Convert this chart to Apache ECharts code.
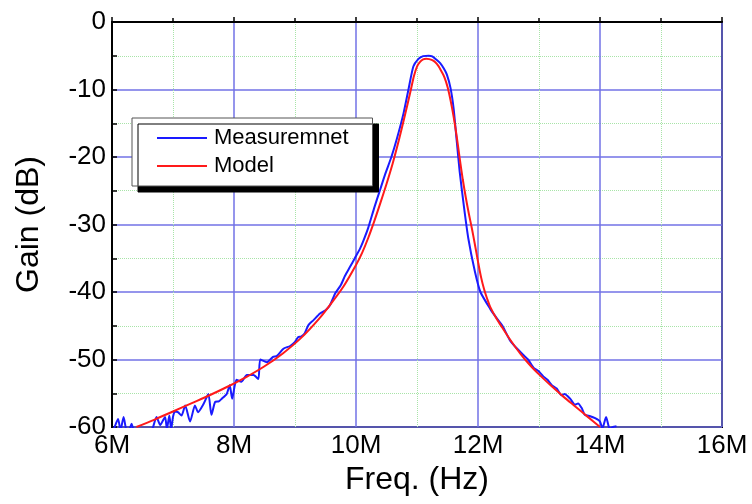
<!DOCTYPE html>
<html>
<head>
<meta charset="utf-8">
<script src="https://cdn.jsdelivr.net/npm/echarts@6/dist/echarts.min.js"></script>
<style>
html,body{margin:0;padding:0;background:#fff;}
#chart{width:752px;height:504px;}
</style>
</head>
<body>
<div id="chart"></div>
<script>
// Axis ticks
var xTicks = [6, 8, 10, 12, 14, 16];   // MHz
var yTicks = [-60, -50, -40, -30, -20, -10, 0]; // dB
var seriesNames = ['Measuremnet', 'Model'];

// Measurement (MHz, dB)
var measFreq = [6.02, 6.06, 6.10, 6.14, 6.19, 6.24, 6.28, 6.32, 6.36, 6.50, 6.65, 6.73, 6.79, 6.87, 6.90, 6.94, 6.97, 7.00, 7.03, 7.08,
  7.14, 7.20, 7.28, 7.36, 7.41, 7.50, 7.58, 7.63, 7.69, 7.75, 7.80, 7.88, 7.93, 7.97, 8.04, 8.12, 8.21, 8.32, 8.40, 8.43,
  8.54, 8.64, 8.70, 8.81, 8.92, 9.00, 9.05, 9.10, 9.16, 9.22, 9.30, 9.41, 9.50, 9.57, 9.66, 9.75, 9.82, 9.90, 9.98, 10.07,
  10.13, 10.20, 10.30, 10.39, 10.48, 10.58, 10.67, 10.78, 10.86, 10.94, 11.02, 11.10, 11.19, 11.25, 11.32, 11.38, 11.44, 11.49, 11.55, 11.60,
  11.65, 11.70, 11.77, 11.84, 11.95, 12.04, 12.20, 12.30, 12.40, 12.52, 12.63, 12.74, 12.82, 12.91, 12.99, 13.07, 13.14, 13.21, 13.29, 13.37,
  13.42, 13.51, 13.59, 13.64, 13.70, 13.75, 13.84, 13.92, 14.00, 14.04, 14.10, 14.16, 14.21, 14.27];
var measGain = [-60.5, -59.6, -58.8, -60.5, -58.5, -60.5, -60.5, -59.5, -60.5, -61.0, -60.5, -58.5, -59.7, -58.5, -60.3, -58.3, -60.3, -58.5, -57.7, -57.8,
  -58.3, -56.8, -59.2, -56.8, -57.8, -56.6, -55.1, -58.2, -56.3, -56.2, -55.8, -55.1, -53.8, -55.8, -53.0, -53.3, -52.3, -52.3, -52.9, -50.0,
  -50.4, -49.6, -49.5, -48.4, -48.0, -47.4, -46.7, -46.6, -46.1, -44.9, -44.2, -43.2, -42.7, -42.0, -40.2, -39.0, -37.6, -36.3, -35.0, -33.5,
  -32.2, -30.5, -27.5, -25.0, -22.5, -20.0, -17.3, -13.5, -10.0, -6.6, -5.5, -5.05, -5.0, -5.1, -5.6, -6.1, -6.9, -7.8, -9.8, -12.8,
  -17.5, -22.2, -27.4, -32.0, -37.0, -40.0, -42.5, -43.8, -45.0, -47.1, -48.3, -49.3, -50.0, -51.2, -51.7, -52.5, -53.0, -53.8, -54.3, -55.3,
  -55.1, -55.8, -56.7, -56.5, -57.2, -58.2, -58.4, -58.7, -59.2, -60.2, -58.5, -60.3, -60.0, -59.9];

// Model (MHz, dB)
var modelFreq = [6.40, 6.70, 7.00, 7.30, 7.60, 7.90, 8.20, 8.50, 8.80, 9.10, 9.40, 9.60, 9.80, 10.00, 10.10, 10.20, 10.30, 10.40, 10.50, 10.60,
  10.70, 10.80, 10.90, 10.95, 11.00, 11.05, 11.10, 11.15, 11.20, 11.25, 11.30, 11.35, 11.40, 11.45, 11.50, 11.55, 11.60, 11.65, 11.70, 11.75,
  11.80, 11.85, 11.90, 11.95, 12.00, 12.05, 12.10, 12.15, 12.20, 12.30, 12.40, 12.50, 12.60, 12.70, 12.80, 12.90, 13.00, 13.20, 13.40, 13.60,
  13.80, 14.00];
var modelGain = [-60.0, -58.9, -57.7, -56.5, -55.3, -54.0, -52.6, -51.0, -49.1, -46.8, -43.9, -41.6, -39.1, -36.0, -34.2, -32.0, -29.5, -26.8, -24.0, -21.0,
  -17.6, -13.9, -10.0, -8.0, -6.6, -5.9, -5.55, -5.45, -5.5, -5.65, -5.95, -6.5, -7.3, -8.2, -9.6, -11.6, -14.0, -16.9, -20.2, -23.3,
  -26.0, -28.4, -30.6, -33.0, -35.5, -37.8, -39.6, -41.0, -42.2, -43.9, -45.3, -46.7, -48.0, -49.2, -50.3, -51.3, -52.2, -53.9, -55.5, -57.0,
  -58.5, -60.0];

function pairs(xs, ys) { return xs.map(function (x, i) { return [x, ys[i]]; }); }

var FONT = "'Liberation Sans', Arial, sans-serif";
var chart = echarts.init(document.getElementById('chart'), null, { renderer: 'canvas' });
chart.setOption({
  backgroundColor: '#ffffff',
  animation: false,
  grid: { left: 112, right: 30, top: 22, bottom: 77, show: true, borderColor: '#000', borderWidth: 2, backgroundColor: '#fff' },
  legend: {
    data: seriesNames,
    orient: 'vertical',
    left: 132, top: 118,
    padding: [9, 24, 9, 25],
    icon: 'rect',
    itemWidth: 50, itemHeight: 2, itemGap: 6,
    backgroundColor: '#fff', borderColor: '#555', borderWidth: 1,
    shadowColor: '#000', shadowBlur: 0, shadowOffsetX: 6, shadowOffsetY: 6,
    textStyle: { fontFamily: FONT, fontSize: 22, color: '#000', padding: [0, 0, 0, 2], lineHeight: 22 }
  },
  xAxis: {
    type: 'value', min: xTicks[0], max: xTicks[xTicks.length - 1], interval: 2,
    name: 'Freq. (Hz)', nameLocation: 'middle', nameGap: 27,
    nameTextStyle: { fontFamily: FONT, fontSize: 32, color: '#000' },
    axisLine: { lineStyle: { color: '#000', width: 2 } },
    axisTick: { show: true, inside: true, length: 5, lineStyle: { color: '#000', width: 1.5 } },
    minorTick: { show: true, splitNumber: 2, length: 4, lineStyle: { color: '#000', width: 1.5 } },
    axisLabel: { fontFamily: FONT, fontSize: 26, color: '#000', margin: 6, formatter: function (v) { return v + 'M'; } },
    splitLine: { show: true, lineStyle: { color: '#7272e6', width: 1.5 } },
    minorSplitLine: { show: true, lineStyle: { color: '#a8e4a8', width: 1, type: 'dotted' } }
  },
  yAxis: {
    type: 'value', min: yTicks[0], max: yTicks[yTicks.length - 1], interval: 10,
    name: 'Gain (dB)', nameLocation: 'middle', nameGap: 67,
    nameTextStyle: { fontFamily: FONT, fontSize: 32, color: '#000' },
    axisLine: { lineStyle: { color: '#000', width: 2 } },
    axisTick: { show: true, inside: true, length: 5, lineStyle: { color: '#000', width: 1.5 } },
    minorTick: { show: true, splitNumber: 2, length: 5, lineStyle: { color: '#000', width: 1.5 } },
    axisLabel: { fontFamily: FONT, fontSize: 26, color: '#000', margin: 6 },
    splitLine: { show: true, lineStyle: { color: '#7272e6', width: 1.5 } },
    minorSplitLine: { show: true, lineStyle: { color: '#a8e4a8', width: 1, type: 'dotted' } }
  },
  series: [
    {
      name: seriesNames[0], type: 'line', data: pairs(measFreq, measGain),
      symbol: 'none', smooth: 0.2, clip: true,
      lineStyle: { color: '#1a1aff', width: 2 }, itemStyle: { color: '#1a1aff' }, z: 3
    },
    {
      name: seriesNames[1], type: 'line', data: pairs(modelFreq, modelGain),
      symbol: 'none', smooth: 0.3, clip: true,
      lineStyle: { color: '#ff1a1a', width: 2 }, itemStyle: { color: '#ff1a1a' }, z: 4
    }
  ]
});
</script>
</body>
</html>
